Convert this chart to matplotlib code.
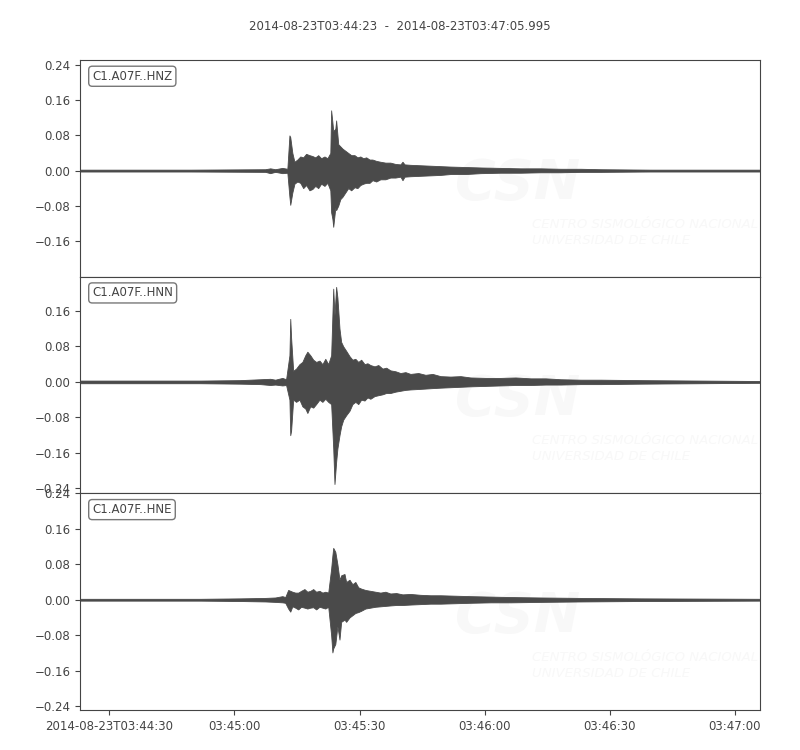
import matplotlib
matplotlib.use("Agg")
import matplotlib.pyplot as plt

# seconds after 2014-08-23T03:44:23, envelope
t_hnz = [0, 26.4, 44.4, 45.6, 46.8, 48.5, 49.7, 50.2, 50.4, 50.9, 51.4, 52.1, 52.8,
         53.5, 54.2, 55.0, 55.7, 56.4, 57.1, 57.8, 58.6, 59.3, 60.0, 60.2, 60.5,
         60.7, 61.2, 61.4, 61.9, 62.4, 62.9, 63.6, 64.3, 65.0, 65.8, 66.5, 67.2,
         67.9, 68.6, 69.4, 70.1, 71.0, 72.0, 73.2, 74.4, 75.6, 76.8, 77.3, 77.8,
         79.2, 81.6, 84.0, 86.4, 88.8, 92.4, 96.0, 100.8, 105.6, 110.4, 115.2,
         120.0, 124.8, 136.8, 163.2]
up_hnz = [0.002, 0.002, 0.003, 0.005, 0.003, 0.006, 0.004, 0.080, 0.076, 0.040,
          0.020, 0.025, 0.032, 0.030, 0.038, 0.035, 0.033, 0.030, 0.035, 0.028,
          0.032, 0.028, 0.040, 0.137, 0.110, 0.090, 0.095, 0.114, 0.060, 0.055,
          0.050, 0.045, 0.040, 0.035, 0.035, 0.030, 0.032, 0.028, 0.030, 0.025,
          0.025, 0.022, 0.020, 0.018, 0.018, 0.015, 0.014, 0.020, 0.014, 0.013,
          0.012, 0.011, 0.010, 0.009, 0.008, 0.007, 0.006, 0.005, 0.005, 0.004,
          0.004, 0.003, 0.002, 0.002]
lo_hnz = [-0.002, -0.002, -0.003, -0.006, -0.003, -0.006, -0.005, -0.060, -0.078,
          -0.050, -0.030, -0.025, -0.028, -0.040, -0.033, -0.045, -0.042, -0.035,
          -0.040, -0.030, -0.035, -0.028, -0.045, -0.095, -0.110, -0.128, -0.085,
          -0.090, -0.080, -0.065, -0.060, -0.050, -0.040, -0.045, -0.038, -0.040,
          -0.033, -0.030, -0.028, -0.028, -0.022, -0.025, -0.020, -0.020, -0.016,
          -0.016, -0.014, -0.022, -0.014, -0.013, -0.012, -0.011, -0.010, -0.008,
          -0.008, -0.006, -0.005, -0.005, -0.004, -0.004, -0.003, -0.003, -0.002,
          -0.002]

t_hnn = [0, 28.8, 38.4, 43.2, 45.6, 46.8, 48.5, 49.4, 50.2, 50.4, 50.6, 51.1, 51.8,
         52.6, 53.3, 54.0, 54.5, 55.2, 55.9, 56.6, 57.4, 58.1, 58.8, 59.5, 60.2,
         60.7, 61.0, 61.4, 61.7, 62.2, 62.6, 63.1, 63.8, 64.6, 65.3, 66.0, 66.7,
         67.4, 68.2, 68.9, 69.6, 70.6, 71.5, 72.5, 73.4, 74.4, 75.6, 76.8, 78.0,
         79.2, 81.1, 82.8, 84.5, 86.4, 88.8, 91.2, 93.6, 97.2, 100.8, 104.4, 108.0,
         111.6, 115.2, 120.0, 124.8, 134.4, 148.8, 163.2]
up_hnn = [0.003, 0.003, 0.004, 0.006, 0.007, 0.005, 0.009, 0.006, 0.060, 0.142,
          0.100, 0.025, 0.030, 0.040, 0.045, 0.060, 0.068, 0.060, 0.050, 0.045,
          0.048, 0.040, 0.052, 0.040, 0.060, 0.210, 0.150, 0.214, 0.190, 0.120,
          0.090, 0.080, 0.070, 0.058, 0.050, 0.052, 0.045, 0.050, 0.040, 0.042,
          0.038, 0.035, 0.038, 0.030, 0.032, 0.026, 0.024, 0.020, 0.022, 0.018,
          0.020, 0.016, 0.018, 0.013, 0.012, 0.013, 0.010, 0.009, 0.009, 0.010,
          0.008, 0.008, 0.006, 0.005, 0.005, 0.004, 0.003, 0.002]
lo_hnn = [-0.003, -0.003, -0.004, -0.005, -0.007, -0.006, -0.008, -0.007, -0.040,
          -0.120, -0.110, -0.040, -0.045, -0.040, -0.055, -0.060, -0.070, -0.055,
          -0.058, -0.050, -0.040, -0.045, -0.038, -0.045, -0.050, -0.150, -0.230,
          -0.180, -0.150, -0.120, -0.100, -0.085, -0.075, -0.065, -0.050, -0.045,
          -0.050, -0.040, -0.042, -0.035, -0.038, -0.032, -0.030, -0.028, -0.025,
          -0.025, -0.022, -0.020, -0.018, -0.017, -0.016, -0.015, -0.014, -0.013,
          -0.012, -0.011, -0.010, -0.009, -0.008, -0.007, -0.007, -0.006, -0.006,
          -0.005, -0.005, -0.004, -0.003, -0.002]

t_hne = [0, 28.8, 38.4, 44.4, 46.8, 48.5, 49.2, 49.9, 50.4, 50.9, 51.6, 52.3, 53.0,
         53.8, 54.5, 55.2, 55.9, 56.6, 57.4, 58.1, 58.8, 59.5, 60.2, 60.5, 60.7,
         61.2, 61.7, 62.2, 62.6, 63.4, 63.8, 64.6, 65.3, 66.0, 66.7, 67.4, 68.4,
         69.6, 70.8, 72.0, 73.2, 74.4, 75.8, 77.3, 79.2, 81.6, 84.0, 86.4, 90.0,
         93.6, 98.4, 103.2, 110.4, 120.0, 134.4, 163.2]
up_hne = [0.002, 0.002, 0.003, 0.004, 0.005, 0.008, 0.006, 0.022, 0.020, 0.018,
          0.016, 0.016, 0.020, 0.024, 0.018, 0.020, 0.024, 0.018, 0.020, 0.016,
          0.018, 0.016, 0.070, 0.100, 0.117, 0.108, 0.080, 0.045, 0.055, 0.058,
          0.040, 0.045, 0.035, 0.040, 0.028, 0.025, 0.022, 0.020, 0.018, 0.016,
          0.018, 0.014, 0.015, 0.012, 0.013, 0.011, 0.010, 0.010, 0.009, 0.008,
          0.007, 0.006, 0.005, 0.004, 0.003, 0.002]
lo_hne = [-0.002, -0.002, -0.003, -0.004, -0.005, -0.006, -0.007, -0.020, -0.027,
          -0.015, -0.018, -0.022, -0.016, -0.018, -0.020, -0.018, -0.017, -0.022,
          -0.016, -0.018, -0.020, -0.016, -0.080, -0.119, -0.110, -0.100, -0.060,
          -0.090, -0.050, -0.045, -0.050, -0.040, -0.035, -0.030, -0.028, -0.025,
          -0.020, -0.018, -0.016, -0.015, -0.014, -0.013, -0.012, -0.012, -0.011,
          -0.010, -0.009, -0.009, -0.008, -0.007, -0.006, -0.006, -0.005, -0.004,
          -0.003, -0.002]

channels = ["C1.A07F..HNZ", "C1.A07F..HNN", "C1.A07F..HNE"]
traces = [(t_hnz, up_hnz, lo_hnz), (t_hnn, up_hnn, lo_hnn), (t_hne, up_hne, lo_hne)]
ylims = [(-0.2415, 0.2515), (-0.251, 0.237), (-0.249, 0.2395)]
yticks = [[-0.16, -0.08, 0.0, 0.08, 0.16, 0.24],
          [-0.24, -0.16, -0.08, 0.0, 0.08, 0.16],
          [-0.24, -0.16, -0.08, 0.0, 0.08, 0.16, 0.24]]

xtick_pos = [7, 37, 67, 97, 127, 157]
xtick_lab = ["2014-08-23T03:44:30", "03:45:00", "03:45:30", "03:46:00",
             "03:46:30", "03:47:00"]
t_end = 162.995
title = "2014-08-23T03:44:23  -  2014-08-23T03:47:05.995"

wave_col = "#4a4a4a"
text_col = "#444444"
mark_col = "#f8f8f8"
plt.rcParams["font.size"] = 8.5
plt.rcParams["text.color"] = text_col
plt.rcParams["axes.edgecolor"] = text_col
plt.rcParams["xtick.color"] = text_col
plt.rcParams["ytick.color"] = text_col

fig, axes = plt.subplots(3, 1, figsize=(8, 7.5), dpi=100, sharex=True)
fig.subplots_adjust(left=0.1, right=0.95, top=0.92, bottom=0.0533, hspace=0)

for i, ax in enumerate(axes):
    t, up, lo = traces[i]
    # faint CSN watermark behind the trace
    ax.text(0.552, 0.43, "CSN", transform=ax.transAxes, fontsize=40,
            fontweight="bold", style="italic", color=mark_col,
            zorder=0, ha="left", va="center", clip_on=True)
    ax.text(0.665, 0.205, "CENTRO SISMOLÓGICO NACIONAL\nUNIVERSIDAD DE CHILE",
            transform=ax.transAxes, fontsize=9.5, style="italic",
            color=mark_col, zorder=0, ha="left", va="center", linespacing=1.3,
            clip_on=True)
    ax.fill_between(t, lo, up, facecolor=wave_col, edgecolor=wave_col,
                    linewidth=0.6, zorder=2)
    ax.plot([t[0], t_end], [0, 0], color=wave_col, lw=1.0, zorder=2)
    ax.set_xlim(0, t_end)
    ax.set_ylim(*ylims[i])
    ax.set_yticks(yticks[i])
    ax.set_yticklabels(["%.2f" % v if v >= 0 else "\u2212%.2f" % -v
                        for v in yticks[i]])
    ax.text(0.018, 0.955, channels[i], transform=ax.transAxes, ha="left",
            va="top", fontsize=8.5, zorder=5,
            bbox=dict(boxstyle="round,pad=0.3", facecolor="white",
                      edgecolor="#777777", linewidth=1.0))
    if i < 2:
        ax.tick_params(axis="x", bottom=False, labelbottom=False)

axes[2].set_xticks(xtick_pos)
axes[2].set_xticklabels(xtick_lab)
fig.suptitle(title, y=0.973, fontsize=8.5, color=text_col)

fig.savefig("out.png", dpi=100)
